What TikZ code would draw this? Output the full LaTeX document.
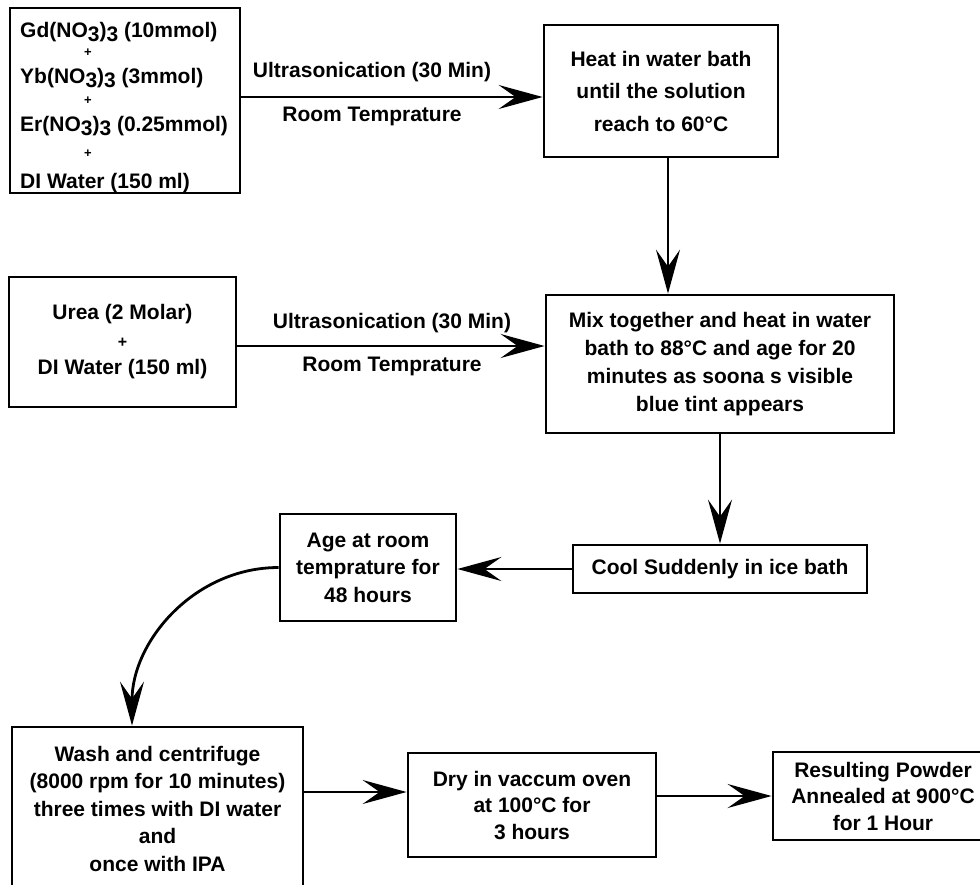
\documentclass[tikz,border=0pt]{standalone}
\usepackage{fontspec}
\setmainfont{Liberation Sans}
\usetikzlibrary{arrows.meta,calc}
\newcommand{\lowthree}{\raisebox{-4pt}{3}}
\begin{document}
\begin{tikzpicture}[x=1pt,y=-1pt,
  box/.style={draw, line width=2.8pt, inner sep=0pt, align=center, font=\fontsize{21}{27.5}\selectfont\bfseries},
  txt/.style={inner sep=0pt, font=\fontsize{21}{25}\selectfont\bfseries},
  plus/.style={inner sep=0pt, font=\fontsize{13}{13}\selectfont\bfseries},
  arr/.style={line width=2.8pt, -{Stealth[length=44pt,width=24pt,inset=17pt]}},
]
\useasboundingbox (0,0) rectangle (980,884);
\clip (0,0) rectangle (980,884);
% boxes
\node[box, minimum width=230pt, minimum height=185pt] (b1) at (125,100.5) {};
\node[txt, anchor=base west] (g1) at (20,37) {Gd(NO\lowthree)\lowthree{} (10mmol)};
\node[plus] (p1) at (88,53) {+};
\node[txt, anchor=base west] (g2) at (20,83) {Yb(NO\lowthree)\lowthree{} (3mmol)};
\node[plus] (p2) at (88,101) {+};
\node[txt, anchor=base west] (g3) at (20,131) {Er(NO\lowthree)\lowthree{} (0.25mmol)};
\node[plus] (p3) at (88,154) {+};
\node[txt, anchor=base west] (g4) at (20,188) {DI Water (150 ml)};

\node[box, minimum width=234pt, minimum height=132pt, font=\fontsize{21}{32.5}\selectfont\bfseries] (b2) at (661,91) {Heat in water bath\\until the solution\\reach to 60°C};

\node[box, minimum width=227pt, minimum height=130pt] (urea) at (122.5,342) {Urea (2 Molar)\\{\fontsize{16}{16}\selectfont +}\\DI Water (150 ml)};

\node[box, minimum width=348pt, minimum height=138pt, font=\fontsize{21}{28}\selectfont\bfseries] (mix) at (720,364) {Mix together and heat in water\\bath to 88°C and age for 20\\minutes as soona s visible\\blue tint appears};

\node[box, minimum width=294pt, minimum height=48pt] (cool) at (720,569) {Cool Suddenly in ice bath};

\node[box, minimum width=176pt, minimum height=107pt] (age) at (368,567.5) {Age at room\\temprature for\\48 hours};

\node[box, minimum width=291pt, minimum height=163pt] (wash) at (157.5,808.5) {Wash and centrifuge\\(8000 rpm for 10 minutes)\\three times with DI water\\and\\once with IPA};

\node[box, minimum width=248pt, minimum height=104pt, font=\fontsize{21}{26.5}\selectfont\bfseries] (dry) at (532,805) {Dry in vaccum oven\\at 100°C for\\3 hours};

\node[box, minimum width=220pt, minimum height=88pt, font=\fontsize{21}{26.5}\selectfont\bfseries] (res) at (883,796) {Resulting Powder\\Annealed at 900°C\\for 1 Hour};

% labels
\node[txt] (l1a) at (372,72) {Ultrasonication (30 Min)};
\node[txt] (l1b) at (372,116) {Room Temprature};
\node[txt] (l2a) at (392,323) {Ultrasonication (30 Min)};
\node[txt] (l2b) at (392,366) {Room Temprature};

% connectors
\draw[arr] ([yshift=3.5pt]b1.east) -- ([yshift=3.5pt]b1.east -| b2.west);
\draw[arr] ([xshift=7pt]b2.south) -- ([xshift=7pt]b2.south |- mix.north);
\draw[arr] ([yshift=-4pt]urea.east) -- ([yshift=-4pt]urea.east -| mix.west);
\draw[arr] (mix.south) -- (cool.north);
\draw[arr] (cool.west) -- (cool.west -| age.east);
\coordinate (wtop) at ([xshift=-25.5pt]wash.north);
\draw[arr] (age.west) to[out=180,in=90] (wtop);
\draw[arr] ([yshift=13pt]dry.west -| wash.east) -- ([yshift=13pt]dry.west);
\draw[arr] (res.west -| dry.east) -- (res.west);
\end{tikzpicture}
\end{document}
